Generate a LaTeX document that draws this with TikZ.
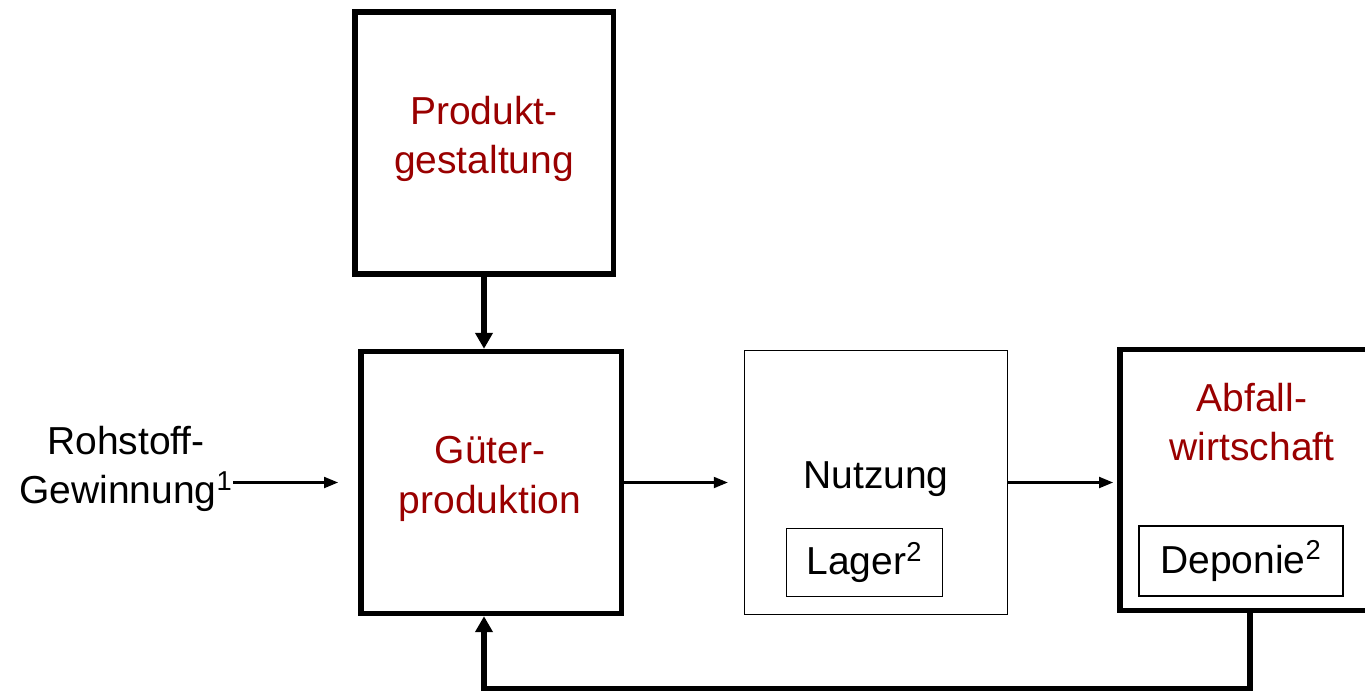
\documentclass[tikz,border=0pt]{standalone}
\usepackage{fontspec}
\setmainfont{Liberation Sans}
\usepackage{tikz}
\usetikzlibrary{arrows.meta,calc}
\definecolor{dunkelrot}{HTML}{990000}

\begin{document}
\begin{tikzpicture}[x=0.02cm, y=-0.02cm,
    font=\fontsize{22.2}{28}\selectfont,
    feld/.style={draw, line width=3.1pt, inner sep=0pt},
    duenn/.style={draw, line width=0.85pt, inner sep=0pt},
    txt/.style={align=center, inner sep=0pt},
    pfeil/.style={-{Triangle[length=0.28cm, width=0.22cm]}, line width=1.15pt},
    dick/.style={-{Triangle[length=0.32cm, width=0.34cm]}, line width=2.9pt}]
  \useasboundingbox (0,0) rectangle (1365,696);
  \clip (0,0) rectangle (1365,696);
  % Kaesten
  \node[feld, minimum width=5.17cm, minimum height=5.24cm] (produkt) at (484,143) {};
  \node[feld, minimum width=5.21cm, minimum height=5.24cm] (gueter) at (491,482.5) {};
  \node[duenn, minimum width=5.26cm, minimum height=5.28cm] (nutzung) at (876,482.5) {};
  \node[feld, minimum width=5.21cm, minimum height=5.22cm] (abfall) at (1250,480) {};
  \node[duenn, minimum width=3.12cm, minimum height=1.36cm] (lager) at (864.5,562.5) {Lager\textsuperscript{2}};
  \node[duenn, minimum width=4.08cm, minimum height=1.4cm] (deponie) at (1241,561) {Deponie\textsuperscript{2}};
  % Beschriftungen
  \node[txt, text=dunkelrot] (t-produkt) at (484,139) {Produkt-\\gestaltung};
  \node[txt, text=dunkelrot] (t-gueter) at (490,479) {Güter-\\produktion};
  \node[txt] (t-nutzung) at (876,479) {Nutzung};
  \node[txt, text=dunkelrot] (t-abfall) at (1252,422) {Abfall-\\wirtschaft};
  \node[txt, anchor=east] (rohstoff) at (233,469) {Rohstoff-\\Gewinnung\textsuperscript{1}};
  % Pfeile
  \draw[pfeil, shorten >=0.4cm] (rohstoff.east |- gueter.west) -- (gueter.west);
  \draw[pfeil, shorten >=0.32cm] (gueter.east) -- (nutzung.west);
  \draw[pfeil, shorten >=0.08cm] (nutzung.east) -- (nutzung.east -| abfall.west);
  \draw[dick] (produkt.south) -- (produkt.south |- gueter.north);
  \draw[dick] (abfall.south) -- ++(0,75) -| (produkt.south |- gueter.south);
\end{tikzpicture}
\end{document}
